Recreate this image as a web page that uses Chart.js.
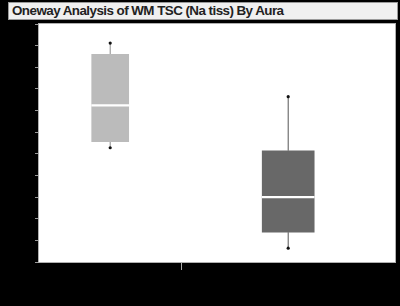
<!DOCTYPE html>
<html><head><meta charset="utf-8">
<script src="https://cdn.jsdelivr.net/npm/chart.js@4"></script>
<style>
html,body{margin:0;padding:0;background:#000;}
#wrap{position:relative;width:400px;height:306px;}
#title{position:absolute;left:8px;top:2px;width:385px;height:16px;background:#f0f0f0;border:1px solid #9a9a9a;
 font:bold 13.4px "Liberation Sans",Arial,sans-serif;letter-spacing:-0.55px;color:#222;line-height:16px;padding-left:3px;box-sizing:content-box;white-space:nowrap;}
canvas{position:absolute;left:0;top:0;}
</style></head>
<body><div id="wrap"><canvas id="c" width="400" height="306"></canvas>
<div id="title">Oneway Analysis of WM TSC (Na tiss) By Aura</div></div>
<script>
// data
const groups = ["Group A", "Group B"];
const groupX = [0.2, 0.7];
const whiskerMin = [26.4, 3.2];
const q1 = [27.8, 6.9];
const median = [36.2, 15.0];
const q3 = [48.0, 25.7];
const whiskerMax = [50.6, 38.2];
const yTicks = [0,5,10,15,20,25,30,35,40,45,50,55];
const xTicks = [0.4];

const boxColors = ["#bbbbbb", "#686868"];
const whiskerColors = ["#8a8a8a", "#555555"];
const boxWidths = [37, 52];

const datasets = [];
groups.forEach((g,i)=>{
  datasets.push({type:'bar', label:g, data:[{x:groupX[i], y:[q1[i], q3[i]]}],
    backgroundColor:boxColors[i], borderWidth:0, barThickness:boxWidths[i], grouped:false, order:2});
  datasets.push({type:'bar', label:g+' median', data:[{x:groupX[i], y:[median[i]-0.17, median[i]+0.17]}],
    backgroundColor:'#ffffff', borderWidth:0, barThickness:boxWidths[i], grouped:false, order:1});
  datasets.push({type:'scatter', label:g+' upper', showLine:true, data:[{x:groupX[i],y:q3[i]},{x:groupX[i],y:whiskerMax[i]}],
    borderColor:whiskerColors[i], borderWidth:1, pointRadius:0, order:3});
  datasets.push({type:'scatter', label:g+' lower', showLine:true, data:[{x:groupX[i],y:whiskerMin[i]},{x:groupX[i],y:q1[i]}],
    borderColor:whiskerColors[i], borderWidth:1, pointRadius:0, order:3});
  datasets.push({type:'scatter', label:g+' ends', data:[{x:groupX[i],y:whiskerMin[i]},{x:groupX[i],y:whiskerMax[i]}],
    backgroundColor:'#111', borderWidth:0, pointRadius:1.6, order:0});
});

const bgPlugin = {id:'bg', beforeDraw(chart){
  const {ctx, chartArea:a} = chart;
  ctx.save(); ctx.fillStyle='#fff'; ctx.fillRect(a.left,a.top,a.right-a.left,a.bottom-a.top);
  ctx.restore();
}, afterDraw(chart){
  const {ctx, chartArea:a} = chart;
  ctx.save(); ctx.strokeStyle='#b0b0b0'; ctx.lineWidth=1;
  ctx.strokeRect(Math.round(a.left)-0.5, Math.round(a.top)-0.5, Math.round(a.right-a.left)+1, Math.round(a.bottom-a.top)+1);
  ctx.restore();
}};

new Chart(document.getElementById('c'), {
  type:'bar',
  data:{datasets},
  options:{
    responsive:false, animation:false,
    layout:{padding:{left:0, top:24, right:5, bottom:0}},
    plugins:{legend:{display:false}, tooltip:{enabled:false}, title:{display:false}},
    scales:{
      x:{type:'linear', min:0, max:1, offset:false,
        afterBuildTicks:s=>{s.ticks = xTicks.map(v=>({value:v}));},
        afterFit:s=>{s.height = 44;},
        grid:{drawOnChartArea:false, offset:false, tickLength:8, color:'#aaaaaa'},
        border:{display:false},
        ticks:{display:false}},
      y:{type:'linear', min:0, max:55,
        afterBuildTicks:s=>{s.ticks = yTicks.map(v=>({value:v}));},
        afterFit:s=>{s.width = 39;},
        grid:{drawOnChartArea:false, tickLength:4, color:'#999999'},
        border:{display:false},
        ticks:{display:false}}
    }
  },
  plugins:[bgPlugin]
});
</script></body></html>
